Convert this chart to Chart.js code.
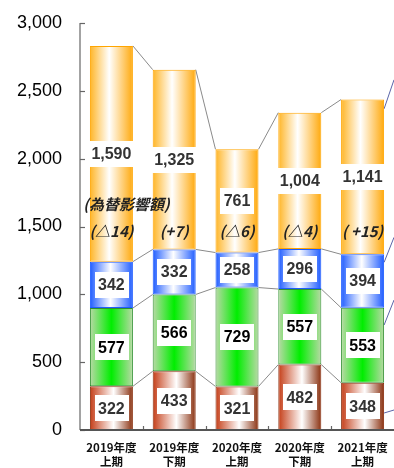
<!DOCTYPE html>
<html>
<head>
<meta charset="utf-8">
<script src="https://cdn.jsdelivr.net/npm/chart.js@4.4.0/dist/chart.umd.js"></script>
<style>
  html, body { margin: 0; padding: 0; background: #fff; }
  #wrap { width: 394px; height: 468px; }
</style>
</head>
<body>
<div id="wrap"><canvas id="salesChart" width="394" height="468"></canvas></div>
<script>
// categories and values (bottom segment first)
const periods = [['2019年度', '上期'], ['2019年度', '下期'], ['2020年度', '上期'], ['2020年度', '下期'], ['2021年度', '上期']];
const seriesRed = [322, 433, 321, 482, 348];
const seriesGreen = [577, 566, 729, 557, 553];
const seriesBlue = [342, 332, 258, 296, 394];
const seriesOrange = [1590, 1325, 761, 1004, 1141];
const fxEffect = ['(△14)', '(+7)', '(△6)', '(△4)', '( +15)'];
const fxTitle = '(為替影響額)';
const yTicks = [0, 500, 1000, 1500, 2000, 2500, 3000];

const BAR_PCT = 0.685;
const numFont = '"Liberation Sans", Arial, sans-serif';
const jpFont = '"Noto Sans CJK JP", sans-serif';

// horizontal gradient across each bar
function barFill(stops, fallback) {
    return function(ctx) {
        const chart = ctx.chart;
        const xs = chart.scales && chart.scales.x;
        if (ctx.dataIndex === undefined || !xs || !chart.chartArea) return fallback;
        const cx = xs.getPixelForValue(ctx.dataIndex);
        const w = xs.width / periods.length * BAR_PCT;
        const g = chart.ctx.createLinearGradient(cx - w / 2, 0, cx + w / 2, 0);
        stops.forEach(function(s) { g.addColorStop(s[0], s[1]); });
        return g;
    };
}

const fills = {
    red: barFill([[0, '#c43d17'], [0.55, '#ffffff'], [1, '#8a3110']], '#c43d17'),
    green: barFill([[0, '#b9d9a6'], [0.5, '#00ee00'], [1, '#b9d9a6']], '#00ee00'),
    blue: barFill([[0, '#1f5cff'], [0.48, '#ffffff'], [1, '#1f5cff']], '#1f5cff'),
    orange: barFill([[0, '#ffb526'], [0.45, '#ffffff'], [1, '#ffa90d']], '#ffb526')
};

// gray connector lines between neighbouring bars, inner tick marks, leader lines
const decorPlugin = {
    id: 'decor',
    beforeDatasetsDraw(chart) {
        const c = chart.ctx;
        c.save();
        c.strokeStyle = '#8a8a8a';
        c.lineWidth = 1;
        chart.data.datasets.forEach(function(ds, d) {
            const els = chart.getDatasetMeta(d).data;
            for (let i = 0; i < els.length - 1; i++) {
                const a = els[i], b = els[i + 1];
                c.beginPath();
                c.moveTo(a.x + a.width / 2, a.y);
                c.lineTo(b.x - b.width / 2, b.y);
                c.stroke();
            }
        });
        // leader lines leaving the last bar to the right
        const fr = [[0.64, 3], [0.23, 25], [0.15, 25], [0.06, 29]];
        c.strokeStyle = '#5a64a8';
        chart.data.datasets.forEach(function(ds, d) {
            const els = chart.getDatasetMeta(d).data;
            const e = els[els.length - 1];
            const y0 = e.y + (e.base - e.y) * fr[d][0];
            c.beginPath();
            c.moveTo(e.x + e.width / 2, y0);
            c.lineTo(chart.width, y0 - fr[d][1]);
            c.stroke();
        });
        c.restore();
    },
    afterDraw(chart) {
        const c = chart.ctx;
        const ys = chart.scales.y, xs = chart.scales.x;
        const area = chart.chartArea;
        c.save();
        c.strokeStyle = '#666';
        c.lineWidth = 1.2;
        c.beginPath();
        c.moveTo(area.left, area.top);
        c.lineTo(area.left, area.bottom);
        c.stroke();
        ys.ticks.forEach(function(t) {
            const y = Math.round(ys.getPixelForValue(t.value)) + 0.5;
            c.beginPath();
            c.moveTo(area.left, y);
            c.lineTo(area.left + 5, y);
            c.stroke();
        });
        const step = xs.width / periods.length;
        for (let i = 1; i < periods.length; i++) {
            const x = Math.round(area.left + step * i) + 0.5;
            c.beginPath();
            c.moveTo(x, area.bottom);
            c.lineTo(x, area.bottom - 4);
            c.stroke();
        }
        c.strokeStyle = '#555';
        c.lineWidth = 2;
        c.beginPath();
        c.moveTo(area.left, area.bottom);
        c.lineTo(area.right, area.bottom);
        c.stroke();
        c.restore();
    }
};

// value boxes and fx annotations
const labelPlugin = {
    id: 'valueLabels',
    afterDatasetsDraw(chart) {
        const c = chart.ctx;
        c.save();
        c.textAlign = 'center';
        c.textBaseline = 'middle';
        chart.data.datasets.forEach(function(ds, d) {
            chart.getDatasetMeta(d).data.forEach(function(el, i) {
                const txt = ds.data[i].toLocaleString('en-US');
                c.font = 'bold 16px ' + numFont;
                const tw = c.measureText(txt).width;
                const cy = (el.y + el.base) / 2;
                const bw = tw + 7, bh = 26;
                c.fillStyle = '#ffffff';
                c.fillRect(Math.round(el.x - bw / 2), Math.round(cy - bh / 2), Math.round(bw), bh);
                c.fillStyle = ds.labelColor;
                c.fillText(txt, el.x, cy + 1);
            });
        });
        const ys = chart.scales.y;
        const orange = chart.getDatasetMeta(3).data;
        c.fillStyle = '#222';
        c.font = 'italic bold 15px ' + jpFont;
        orange.forEach(function(el, i) {
            c.fillText(fxEffect[i], el.x, ys.getPixelForValue(1465));
        });
        c.fillText(fxTitle, orange[0].x + 15, ys.getPixelForValue(1665));
        c.restore();
    }
};

new Chart(document.getElementById('salesChart'), {
    type: 'bar',
    data: {
        labels: periods,
        datasets: [
            { label: 'red', data: seriesRed, backgroundColor: fills.red, borderColor: '#8a3110', labelColor: '#333' },
            { label: 'green', data: seriesGreen, backgroundColor: fills.green, borderColor: '#2f8f2f', labelColor: '#000' },
            { label: 'blue', data: seriesBlue, backgroundColor: fills.blue, borderColor: '#1f5cff', labelColor: '#333' },
            { label: 'orange', data: seriesOrange, backgroundColor: fills.orange, borderColor: '#ffa500', labelColor: '#333' }
        ]
    },
    options: {
        responsive: false,
        animation: false,
        layout: { padding: { top: 23, right: 0, left: 0, bottom: 0 } },
        datasets: { bar: { barPercentage: BAR_PCT, categoryPercentage: 1, borderWidth: 1, borderSkipped: false } },
        plugins: { legend: { display: false }, tooltip: { enabled: false } },
        scales: {
            x: {
                stacked: true,
                grid: { display: false, drawTicks: false },
                border: { display: false },
                ticks: { color: '#111', font: { family: jpFont, size: 11.5, weight: 'bold', lineHeight: 1.25 }, padding: 10, maxRotation: 0 },
                afterFit: function(scale) {
                    scale.height = 38;
                    scale.paddingLeft = 0;
                    scale.paddingRight = 0;
                }
            },
            y: {
                stacked: true,
                min: 0,
                max: 3000,
                afterBuildTicks: function(scale) { scale.ticks = yTicks.map(function(v) { return { value: v }; }); },
                grid: { display: false, drawTicks: false },
                border: { display: false },
                ticks: {
                    color: '#000',
                    padding: 18,
                    font: { family: numFont, size: 18 },
                    callback: function(v) { return v.toLocaleString('en-US'); }
                },
                afterFit: function(scale) {
                    scale.width = 80;
                    scale.paddingTop = 0;
                    scale.paddingBottom = 0;
                }
            }
        }
    },
    plugins: [decorPlugin, labelPlugin]
});
</script>
</body>
</html>
